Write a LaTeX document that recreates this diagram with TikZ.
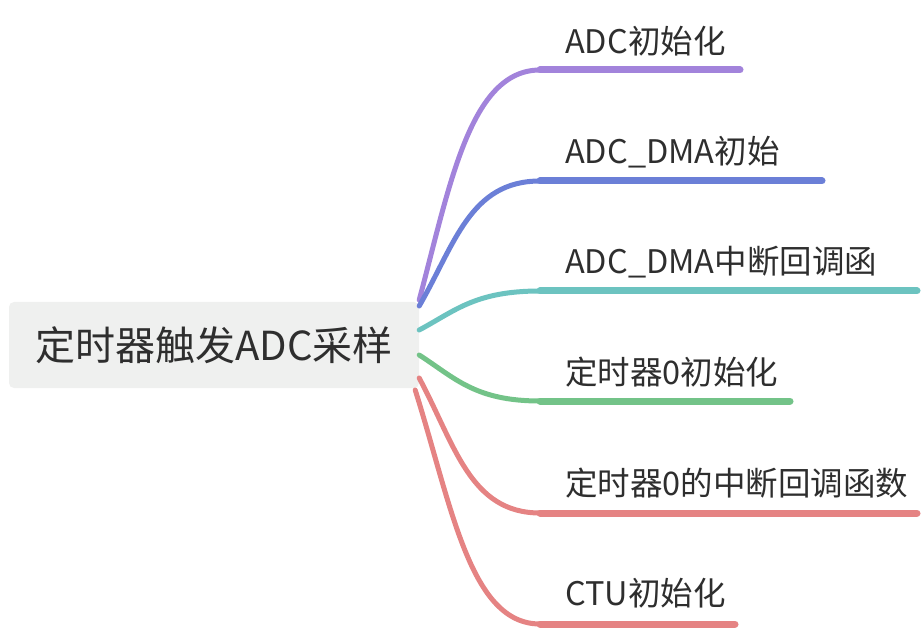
\documentclass[tikz,border=0pt]{standalone}
\usepackage{fontspec}
\setmainfont{Noto Sans CJK SC}
\definecolor{rootgray}{HTML}{EFF0EF}
\definecolor{textdark}{HTML}{2E2E2E}
\definecolor{adcviolet}{HTML}{A283DB}
\definecolor{dmablue}{HTML}{6B7FD7}
\definecolor{isrteal}{HTML}{6CC3C0}
\definecolor{timgreen}{HTML}{73C388}
\definecolor{tmred}{HTML}{E58383}
\begin{document}
\begin{tikzpicture}[x=1pt,y=-1pt,
  root/.style={fill=rootgray,rounded corners=5pt,minimum width=410pt,minimum height=86pt,
    font=\fontsize{40}{46}\selectfont,text=textdark},
  leaf/.style={anchor=west,inner sep=0pt,font=\fontsize{32.5}{40}\selectfont,text=textdark},
  limb/.style={line width=5pt,line cap=round},
  twig/.style={line width=7pt,line cap=round}]
%frame
\useasboundingbox (0,0) rectangle (922,631);
%root
\node[root] (root) at (214,345) {定时器触发ADC采样};
%labels
\node[leaf] (adcinit) at (565,41) {ADC初始化};
\node[leaf] (dmainit) at (565,152) {ADC\_DMA初始};
\node[leaf] (dmaisr) at (565,262) {ADC\_DMA中断回调函};
\node[leaf] (tminit) at (565,372) {定时器0初始化};
\node[leaf] (tmisr) at (565,483) {定时器0的中断回调函数};
\node[leaf] (ctuinit) at (565,593) {CTU初始化};
%underlines
\coordinate (adcinitA) at (540,70);   \coordinate (adcinitB) at (740,70);
\coordinate (dmainitA) at (540,181);  \coordinate (dmainitB) at (822,181);
\coordinate (dmaisrA) at (540,291);   \coordinate (dmaisrB) at (917,291);
\coordinate (tminitA) at (540,401);   \coordinate (tminitB) at (790,401);
\coordinate (tmisrA) at (540,513);    \coordinate (tmisrB) at (917,513);
\coordinate (ctuinitA) at (540,624);  \coordinate (ctuinitB) at (735,624);
%branches
\draw[limb,adcviolet] ([yshift=45pt]root.east) .. controls (450,185) and (470,70) .. (adcinitA);
\draw[limb,dmablue] ([yshift=39pt]root.east) .. controls (455,244) and (470,181) .. (dmainitA);
\draw[limb,isrteal] ([yshift=15pt]root.east) .. controls (455,311) and (475,291) .. (dmaisrA);
\draw[limb,timgreen] ([yshift=-10pt]root.east) .. controls (455,378) and (475,401) .. (tminitA);
\draw[limb,tmred] ([yshift=-33pt]root.east) .. controls (455,445) and (470,513) .. (tmisrA);
\draw[limb,tmred] ([xshift=-4pt,yshift=-45pt]root.east) .. controls (452,507) and (470,624) .. (ctuinitA);
\draw[twig,adcviolet] (adcinitA) -- (adcinitB);
\draw[twig,dmablue] (dmainitA) -- (dmainitB);
\draw[twig,isrteal] (dmaisrA) -- (dmaisrB);
\draw[twig,timgreen] (tminitA) -- (tminitB);
\draw[twig,tmred] (tmisrA) -- (tmisrB);
\draw[twig,tmred] (ctuinitA) -- (ctuinitB);
\end{tikzpicture}
\end{document}
